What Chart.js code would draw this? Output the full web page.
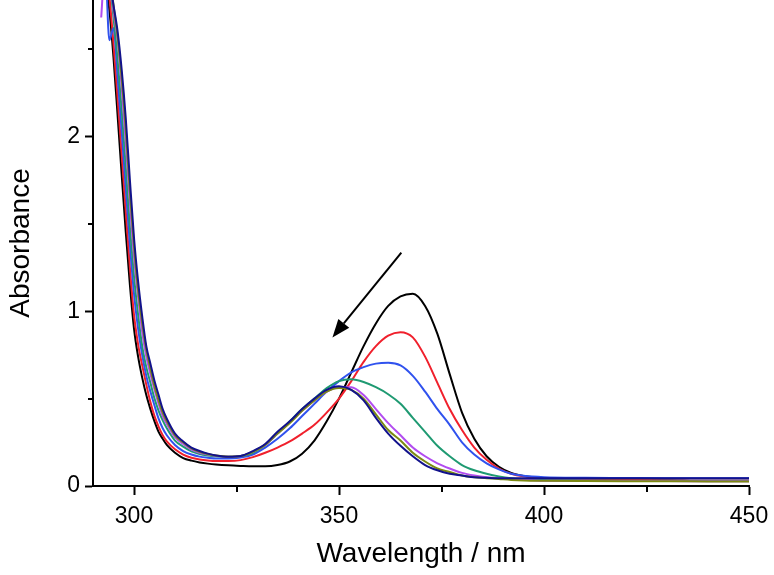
<!DOCTYPE html>
<html>
<head>
<meta charset="utf-8">
<script src="https://cdn.jsdelivr.net/npm/chart.js@4.4.1/dist/chart.umd.min.js"></script>
<style>
  html, body { margin: 0; padding: 0; background: #fff; }
</style>
</head>
<body>
<canvas id="spectra" width="774" height="575"></canvas>
<script>
// wavelength grid (nm)
const wavelengths = [292, 293, 294, 295, 296, 297, 298, 299, 300, 301, 302, 303, 304, 305, 306, 307, 308,
  310, 312, 314, 316, 318, 320,
  323, 326, 329, 332, 335, 338, 341, 344, 347, 350, 353, 356, 359, 362, 365, 368, 371, 374, 377, 380, 383, 386, 389, 392, 395,
  400, 410, 420, 430, 440, 450];

// absorbance of each spectrum
const black = [3.1, 2.9, 2.72, 2.45, 2.12, 1.78, 1.45, 1.15, 0.9, 0.74, 0.62, 0.52, 0.44, 0.37, 0.31, 0.27, 0.235,
  0.19, 0.16, 0.145, 0.135, 0.128, 0.123,
  0.118, 0.115, 0.113, 0.113, 0.12, 0.14, 0.185, 0.26, 0.37, 0.50, 0.65, 0.80, 0.93, 1.03, 1.085, 1.10, 1.03, 0.87, 0.64, 0.42, 0.27, 0.17, 0.11, 0.075, 0.058,
  0.045, 0.04, 0.035, 0.033, 0.03, 0.03];
const red = [3.1, 3.0, 2.8, 2.53, 2.22, 1.9, 1.57, 1.25, 0.98, 0.81, 0.69, 0.58, 0.48, 0.40, 0.34, 0.29, 0.255,
  0.21, 0.18, 0.162, 0.152, 0.146, 0.143,
  0.143, 0.148, 0.165, 0.19, 0.22, 0.255, 0.30, 0.35, 0.42, 0.50, 0.60, 0.71, 0.80, 0.86, 0.88, 0.85, 0.74, 0.59, 0.44, 0.32, 0.22, 0.15, 0.10, 0.07, 0.055,
  0.045, 0.04, 0.035, 0.033, 0.03, 0.03];
const blue = [3.1, 3.0, 2.55, 2.62, 2.34, 2.03, 1.70, 1.38, 1.1, 0.9, 0.75, 0.63, 0.54, 0.46, 0.385, 0.33, 0.29,
  0.235, 0.2, 0.18, 0.168, 0.162, 0.158,
  0.158, 0.163, 0.18, 0.22, 0.27, 0.33, 0.40, 0.47, 0.54, 0.60, 0.65, 0.68, 0.70, 0.705, 0.69, 0.63, 0.54, 0.44, 0.35, 0.25, 0.18, 0.13, 0.095, 0.07, 0.058,
  0.05, 0.047, 0.046, 0.045, 0.045, 0.045];
const green = [3.1, 3.05, 2.9, 2.68, 2.44, 2.15, 1.82, 1.48, 1.2, 0.98, 0.8, 0.68, 0.59, 0.5, 0.43, 0.375, 0.33,
  0.26, 0.225, 0.198, 0.183, 0.175, 0.17,
  0.167, 0.172, 0.19, 0.235, 0.30, 0.37, 0.44, 0.50, 0.56, 0.60, 0.61, 0.595, 0.565, 0.525, 0.47, 0.39, 0.31, 0.23, 0.17, 0.12, 0.09, 0.07, 0.055, 0.045, 0.04,
  0.035, 0.032, 0.03, 0.03, 0.028, 0.028];
const purple = [2.68, 3.0, 2.95, 2.72, 2.55, 2.28, 1.96, 1.62, 1.31, 1.08, 0.88, 0.74, 0.64, 0.55, 0.47, 0.40, 0.355,
  0.28, 0.24, 0.208, 0.19, 0.18, 0.173,
  0.168, 0.172, 0.195, 0.235, 0.30, 0.365, 0.43, 0.49, 0.54, 0.565, 0.565, 0.52, 0.44, 0.36, 0.29, 0.22, 0.17, 0.13, 0.10, 0.075, 0.06, 0.05, 0.045, 0.04, 0.035,
  0.03, 0.03, 0.028, 0.028, 0.027, 0.027];
const olive = [3.1, 3.05, 2.95, 2.75, 2.57, 2.33, 2.04, 1.68, 1.37, 1.12, 0.93, 0.78, 0.67, 0.57, 0.49, 0.42, 0.37,
  0.29, 0.25, 0.215, 0.195, 0.183, 0.174,
  0.168, 0.171, 0.195, 0.235, 0.30, 0.36, 0.43, 0.49, 0.54, 0.56, 0.55, 0.50, 0.41, 0.32, 0.26, 0.19, 0.14, 0.10, 0.08, 0.06, 0.05, 0.045, 0.04, 0.035, 0.032,
  0.03, 0.028, 0.027, 0.027, 0.026, 0.026];
const navy = [3.2, 3.0, 2.9, 2.75, 2.6, 2.38, 2.1, 1.75, 1.42, 1.17, 0.97, 0.8, 0.7, 0.6, 0.52, 0.44, 0.385,
  0.30, 0.255, 0.22, 0.2, 0.185, 0.175,
  0.168, 0.172, 0.2, 0.24, 0.31, 0.37, 0.44, 0.50, 0.55, 0.57, 0.55, 0.49, 0.39, 0.30, 0.23, 0.17, 0.12, 0.09, 0.07, 0.06, 0.05, 0.047, 0.045, 0.045, 0.045,
  0.045, 0.045, 0.045, 0.045, 0.045, 0.045];

// axis ticks
const xTicks = [300, 350, 400, 450];
const xMinorTicks = [325, 375, 425];
const yTicks = [0, 1, 2];
const yMinorTicks = [0.5, 1.5, 2.5];

// arrow from [wavelength, absorbance] tail to head
const arrowTail = [365.2, 1.335];
const arrowHead = [348.4, 0.85];

const FONT = 'Liberation Sans, Arial, sans-serif';

const spectra = [
  { data: black, color: '#000000' },
  { data: red, color: '#f0202c' },
  { data: blue, color: '#3052ee' },
  { data: green, color: '#1f9a72' },
  { data: purple, color: '#b24cf0' },
  { data: olive, color: '#7c8a12' },
  { data: navy, color: '#12128c' }
];

// minor ticks + the arrow
const extras = {
  id: 'extras',
  afterDraw(chart) {
    const c = chart.ctx;
    const xs = chart.scales.x, ys = chart.scales.y;
    c.save();
    c.strokeStyle = '#000';
    c.lineWidth = 2;
    c.beginPath();
    xMinorTicks.forEach(v => {
      const px = Math.round(xs.getPixelForValue(v));
      c.moveTo(px, ys.bottom);
      c.lineTo(px, ys.bottom + 6);
    });
    yMinorTicks.forEach(v => {
      const py = Math.round(ys.getPixelForValue(v));
      c.moveTo(xs.left, py);
      c.lineTo(xs.left - 5, py);
    });
    c.stroke();

    const x1 = xs.getPixelForValue(arrowTail[0]), y1 = ys.getPixelForValue(arrowTail[1]);
    const x2 = xs.getPixelForValue(arrowHead[0]), y2 = ys.getPixelForValue(arrowHead[1]);
    const ang = Math.atan2(y2 - y1, x2 - x1);
    const len = 18, half = 7;
    const bx = x2 - len * Math.cos(ang), by = y2 - len * Math.sin(ang);
    c.beginPath();
    c.moveTo(x1, y1);
    c.lineTo(bx, by);
    c.stroke();
    c.fillStyle = '#000';
    c.beginPath();
    c.moveTo(x2, y2);
    c.lineTo(bx + half * Math.sin(ang), by - half * Math.cos(ang));
    c.lineTo(bx - half * Math.sin(ang), by + half * Math.cos(ang));
    c.closePath();
    c.fill();
    c.restore();
  }
};

new Chart(document.getElementById('spectra'), {
  type: 'line',
  data: {
    datasets: spectra.map((s, i) => ({
      data: wavelengths.map((w, j) => ({ x: w, y: s.data[j] })),
      borderColor: s.color,
      borderWidth: 2,
      pointRadius: 0,
      cubicInterpolationMode: 'monotone',
      fill: false,
      order: spectra.length - i
    }))
  },
  options: {
    responsive: false,
    animation: false,
    layout: { padding: { top: 0, right: 25, left: 0, bottom: 0 } },
    plugins: { legend: { display: false }, tooltip: { enabled: false } },
    scales: {
      x: {
        type: 'linear',
        min: 290,
        max: 450,
        afterBuildTicks: s => { s.ticks = xTicks.map(v => ({ value: v })); },
        afterFit: s => { s.height = 89; s.paddingLeft = 0; s.paddingRight = 0; },
        grid: { drawOnChartArea: false, tickLength: 9, tickWidth: 2, tickColor: '#000' },
        border: { color: '#000', width: 2 },
        ticks: { color: '#000', font: { family: FONT, size: 23 }, padding: 8, maxRotation: 0, autoSkip: false },
        title: { display: true, text: 'Wavelength / nm', color: '#000', font: { family: FONT, size: 28 }, padding: { top: 0, bottom: 4 } }
      },
      y: {
        min: 0,
        max: 2.78,
        afterBuildTicks: s => { s.ticks = yTicks.map(v => ({ value: v })); },
        afterFit: s => { s.width = 93; s.paddingTop = 0; s.paddingBottom = 0; },
        grid: { drawOnChartArea: false, tickLength: 8, tickWidth: 2, tickColor: '#000' },
        border: { color: '#000', width: 2 },
        ticks: { color: '#000', font: { family: FONT, size: 23 }, padding: 5, autoSkip: false },
        title: { display: true, text: 'Absorbance', color: '#000', font: { family: FONT, size: 28 }, padding: { top: 4, bottom: 0 } }
      }
    }
  },
  plugins: [extras]
});
</script>
</body>
</html>
